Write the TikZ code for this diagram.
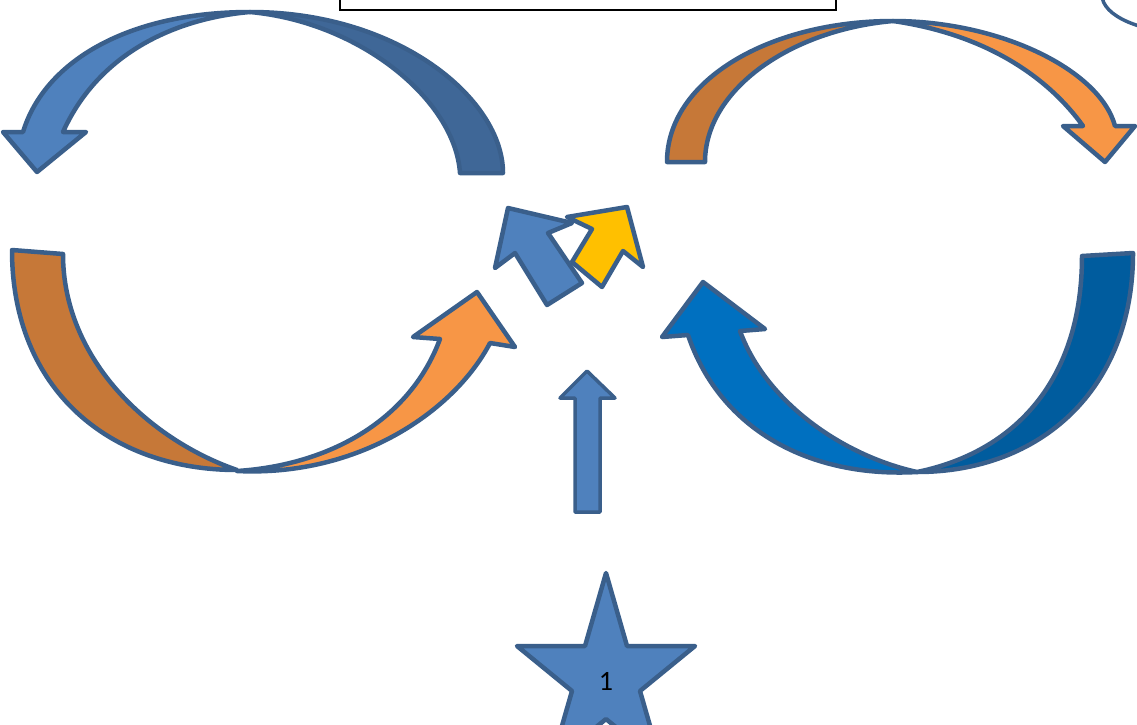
\documentclass[tikz,border=0pt]{standalone}
\usepackage{fontspec}
\setmainfont{Carlito}

\definecolor{edgeblue}{HTML}{3A5F8B}
\definecolor{officeblue}{HTML}{4F81BD}
\definecolor{bluedark}{HTML}{3F6797}
\definecolor{orangelight}{HTML}{F79646}
\definecolor{orangedark}{HTML}{C67838}
\definecolor{navylight}{HTML}{0070C0}
\definecolor{navydark}{HTML}{005C9E}
\definecolor{yellowfill}{HTML}{FFC000}

\begin{document}
\begin{tikzpicture}[x=1pt, y=-1pt,
    outlined/.style={draw=edgeblue, line width=4.5pt, line join=round},
    bluearrow/.style={outlined, fill=officeblue},
]
\useasboundingbox (0,0) rectangle (1137,724);
\clip (0,0) rectangle (1137,724);

% box cut off at the top
\draw[black, line width=1.5pt] (340,-10) rectangle (836,10);

% circle cut off at the top right
\draw[outlined, line width=3.5pt, fill=white] (1190,-5) ellipse [x radius=88, y radius=38];

% top left, curved down
\draw[outlined, fill=bluedark] (250,12) .. controls (400,12) and (503,100) .. (503,173)
  -- (460,173) .. controls (455,100) and (360,22) .. (250,12) -- cycle;
\draw[bluearrow] (250,12) .. controls (130,12) and (45,60) .. (23,132)
  -- (3,132) -- (37,172) -- (86,132) -- (63,132)
  .. controls (100,50) and (180,18) .. (250,12) -- cycle;

% top right, curved down
\draw[outlined, fill=orangedark] (667,162) .. controls (667,80) and (770,21) .. (893,21)
  .. controls (790,30) and (705,90) .. (705,162) -- cycle;
\draw[outlined, fill=orangelight] (893,21) .. controls (1000,21) and (1100,70) .. (1115,126)
  -- (1135,126) -- (1105,162) -- (1063,126) -- (1083,126)
  .. controls (1050,80) and (990,35) .. (893,21) -- cycle;

% bottom left, curved up
\draw[outlined, fill=orangedark] (12,250) .. controls (12,390) and (110,470) .. (237,470)
  .. controls (150,440) and (63,360) .. (63,254) -- cycle;
\draw[outlined, fill=orangelight] (237,471) .. controls (360,477) and (455,410) .. (490,343)
  -- (515,347) -- (477,292) -- (413,337) -- (440,339)
  .. controls (410,420) and (330,465) .. (237,471) -- cycle;

% bottom right, curved up
\draw[outlined, fill=navydark] (1133,253) .. controls (1133,390) and (1040,472) .. (917,472)
  .. controls (1015,452) and (1082,380) .. (1082,256) -- cycle;
\draw[outlined, fill=navylight] (917,472) .. controls (810,478) and (720,430) .. (688,335)
  -- (662,337) -- (703,282) -- (765,329) -- (740,331)
  .. controls (765,400) and (840,455) .. (917,472) -- cycle;

% the two short arrows in the middle
\draw[bluearrow] (508,208) -- (572,223) -- (548,233) -- (582,283)
  -- (547,305) -- (515,253) -- (495,268) -- cycle;
\draw[outlined, fill=yellowfill] (627,207) -- (643,267) -- (623,251) -- (602,287)
  -- (572,262) -- (592,229) -- (567,217) -- cycle;

% straight arrow
\draw[bluearrow, line width=3.5pt] (575,512) -- (575,398) -- (560,398) -- (587,371)
  -- (615,398) -- (600,398) -- (600,512) -- cycle;

% star
\draw[bluearrow] (606,573) -- (627,646) -- (695,646) -- (640,691) -- (661,764)
  -- (606,719) -- (551,764) -- (572,691) -- (517,646) -- (585,646) -- cycle;
\node[font=\fontsize{28}{34}\selectfont, inner sep=0pt] (starlabel) at (606,681) {1};

\end{tikzpicture}
\end{document}
